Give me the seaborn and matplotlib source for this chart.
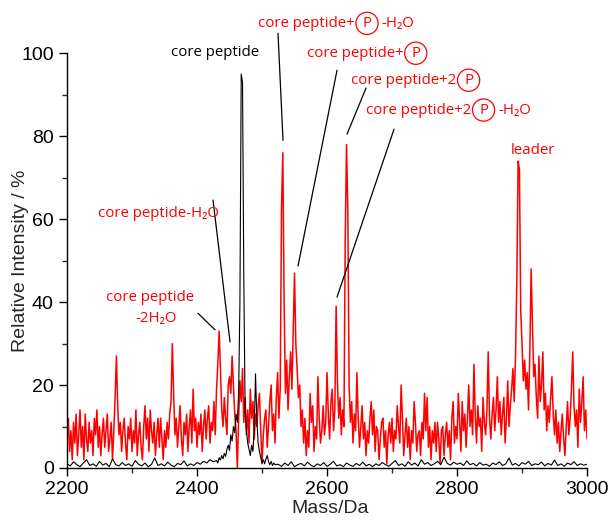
import numpy as np
import pandas as pd
import matplotlib
matplotlib.use("Agg")
import matplotlib.pyplot as plt
import seaborn as sns
from matplotlib.ticker import MultipleLocator

# ---------------- data ----------------
# red trace: sampled every 2 Da from 2200 to 3000 Da
red_mass_start, red_mass_stop, red_mass_step = 2200, 3000, 2
red_intensity = [
    7, 12, 4, 9, 2, 11, 6, 13, 3, 8, 14, 5, 10, 2, 13, 7, 4, 11, 6, 9, 3, 12, 8, 14, 5,        # 2200
    10, 3, 8, 12, 5, 9, 13, 4, 7, 11, 2, 9, 17, 27, 15, 8, 11, 4, 9, 12, 6, 2, 10, 7, 12,      # 2250
    4, 9, 6, 14, 3, 8, 11, 5, 2, 10, 15, 7, 12, 4, 14, 9, 6, 11, 3, 8, 12, 5, 12, 7, 2,        # 2300
    9, 5, 11, 7, 13, 16, 30, 18, 8, 12, 5, 10, 15, 7, 3, 11, 8, 13, 4, 10, 14, 6, 19, 9, 12,   # 2350
    5, 11, 8, 13, 4, 10, 14, 7, 12, 15, 6, 11, 9, 16, 8, 19, 25, 33, 24, 14, 10, 17, 12, 8, 20,  # 2400
    22, 18, 27, 20, 13, 9, 0, 12, 21, 16, 24, 11, 17, 8, 14, 6, 19, 12, 16, 7, 13, 10, 15, 18, 9,  # 2450
    1, 8, 12, 14, 5, 10, 16, 20, 9, 13, 6, 17, 23, 12, 19, 63, 76, 40, 18, 26, 14, 22, 28, 19, 33,  # 2500
    47, 30, 24, 17, 20, 10, 14, 6, 12, 3, 9, 5, 18, 11, 15, 4, 10, 7, 22, 12, 6, 9, 15, 8, 11,  # 2550
    23, 13, 7, 16, 19, 9, 14, 39, 21, 12, 17, 8, 14, 10, 55, 78, 62, 20, 11, 16, 6, 13, 9, 23, 12,  # 2600
    5, 10, 15, 7, 11, 3, 9, 6, 12, 16, 8, 14, 4, 10, 9, 2, 7, 11, 12, 5, 9, 1, 8, 11, 6,        # 2650
    12, 4, 9, 7, 15, 10, 6, 20, 12, 3, 8, 12, 5, 10, 2, 9, 6, 16, 11, 4, 8, 9, 3, 11, 7,       # 2700
    18, 9, 17, 5, 10, 2, 9, 6, 11, 4, 11, 7, 1, 9, 10, 3, 8, 11, 5, 9, 2, 12, 16, 6, 10,       # 2750
    7, 18, 11, 4, 16, 9, 13, 5, 12, 20, 10, 14, 8, 25, 13, 6, 15, 10, 12, 4, 17, 11, 8, 14, 28,  # 2800
    12, 7, 13, 17, 9, 14, 22, 11, 16, 8, 13, 17, 6, 12, 21, 10, 15, 19, 24, 16, 27, 45, 74, 72, 38,  # 2850
    30, 21, 26, 19, 23, 14, 28, 48, 35, 22, 25, 17, 12, 27, 16, 20, 28, 14, 18, 9, 15, 11, 17, 22, 13,  # 2900
    8, 14, 6, 11, 4, 9, 13, 7, 3, 10, 16, 8, 12, 19, 28, 15, 10, 14, 5, 19, 11, 16, 22, 9, 14, 7,  # 2950-3000
]

# black trace: coarse sampling on the baseline, fine sampling around the core peptide
black_low_intensity = [1.0, 0.5, 1.5, 0.8, 0.3, 1.2, 2.0, 0.6, 1.0, 0.4, 1.6, 0.7, 1.1, 0.3, 2.2, 0.8,
                       0.5, 1.3, 0.6, 1.0, 0.4, 1.8, 0.9, 0.5, 1.2, 0.3, 0.9, 2.4, 0.6, 1.0, 0.5, 1.4,
                       0.7, 0.3, 1.1, 0.8, 1.7, 0.5, 1.0, 0.6, 1.3, 0.9, 1.6, 1.2, 2.0, 1.5]          # 2200-2425 / 5 Da
black_peak_intensity = [1.8, 1.2, 2.5, 1.9, 3.0, 2.2, 3.5, 2.8, 4.5, 5.5, 4.2, 8.0, 6.5, 10.0, 8.5, 13.0,
                        11.0, 18.0, 40.0, 95.0, 93.0, 45.0, 14.0, 9.0, 6.0, 4.5, 3.0, 5.5, 4.0, 9.0, 22.7,
                        12.0, 6.0, 4.0, 2.5, 1.2, 2.0, 1.0, 2.2, 3.0, 1.5, 0.8, 1.6, 0.6, 1.2, 0.8]       # 2430-2520 / 2 Da
black_high_intensity = [0.9, 0.4, 1.2, 0.6, 1.5, 0.3, 0.8, 1.1, 0.5, 1.4, 0.7, 0.3, 1.0, 0.6, 1.3, 0.4,
                        0.9, 1.6, 0.5, 0.8, 0.3, 1.2, 0.7, 0.4, 1.1, 0.6, 1.4, 0.5, 0.9, 0.3, 1.0, 0.6,
                        1.3, 0.8, 0.4, 1.1, 1.8, 0.6, 1.0, 0.4, 1.5, 0.7, 1.2, 0.5, 2.0, 0.9, 1.3, 0.6,
                        1.0, 1.6, 0.8, 2.6, 1.1, 0.7, 1.4, 0.9, 1.2, 0.6, 1.7, 0.8, 1.1, 0.5, 1.3, 0.7,
                        0.9, 0.4, 1.2, 0.8, 1.5, 0.6, 1.0, 2.4, 0.7, 1.1, 0.5, 1.3, 0.9, 1.6, 0.6, 1.0,
                        0.8, 1.4, 0.5, 1.1, 0.7, 1.9, 0.6, 1.0, 0.4, 1.2, 0.8, 1.5, 0.6, 1.0, 0.7, 0.9]  # 2525-3000 / 5 Da

x_ticks_major = [2200, 2400, 2600, 2800, 3000]
y_ticks_major = [0, 20, 40, 60, 80, 100]

red_mass = np.arange(red_mass_start, red_mass_stop + 1, red_mass_step)
black_mass = np.concatenate([np.arange(2200, 2426, 5), np.arange(2430, 2521, 2), np.arange(2525, 3001, 5)])
black_intensity = black_low_intensity + black_peak_intensity + black_high_intensity
assert len(red_mass) == len(red_intensity)
assert len(black_mass) == len(black_intensity)

red_df = pd.DataFrame({"mass": red_mass, "intensity": red_intensity})
black_df = pd.DataFrame({"mass": black_mass, "intensity": black_intensity})

# ---------------- style ----------------
sns.set_style("ticks")
plt.rcParams["font.family"] = ["Liberation Sans", "DejaVu Sans"]
RED = "#ff0000"

fig = plt.figure(figsize=(6.12, 5.25), dpi=100)
ax = fig.add_axes([0.1095, 0.1086, 0.8497, 0.790])

sns.lineplot(data=red_df, x="mass", y="intensity", color=RED, lw=1.1,
             estimator=None, sort=False, ax=ax)
sns.lineplot(data=black_df, x="mass", y="intensity", color="black", lw=0.8,
             estimator=None, sort=False, ax=ax)

ax.set_xlim(2200, 3000)
ax.set_ylim(0, 100)
ax.set_xticks(x_ticks_major)
ax.set_yticks(y_ticks_major)
ax.xaxis.set_minor_locator(MultipleLocator(100))
ax.yaxis.set_minor_locator(MultipleLocator(10))
ax.tick_params(axis="both", which="major", direction="out", length=6, width=1.0,
               labelsize=14, colors="black")
ax.tick_params(axis="both", which="minor", direction="out", length=3.5, width=1.0)
for side in ("top", "right"):
    ax.spines[side].set_visible(False)
for side in ("left", "bottom"):
    ax.spines[side].set_linewidth(1.0)
    ax.spines[side].set_color("black")
ax.set_xlabel("Mass/Da", fontsize=14)
ax.set_ylabel("Relative Intensity / %", fontsize=14)
ax.xaxis.set_label_coords(0.506, -0.076)
ax.yaxis.set_label_coords(-0.073, 0.5)

# ---------------- annotations ----------------
ANN = dict(fontfamily=["Open Sans", "DejaVu Sans"], fontsize=10.8)


def chained_label(x, y, pieces, color=RED):
    """pieces: list of (text, circled)"""
    prev = ax.text(x, y, pieces[0][0], color=color, ha="left", va="center", **ANN)
    after_circle = False
    for txt, circled in pieces[1:]:
        if circled:
            dx = 5.6
        elif after_circle:
            dx = 7.4
        else:
            dx = 0
        kw = {}
        if circled:
            kw["bbox"] = dict(boxstyle="circle,pad=0.24", fc="none", ec=color, lw=0.9)
        prev = ax.annotate(txt, xy=(1, 0), xycoords=prev, xytext=(dx, 0),
                           textcoords="offset points", ha="left", va="bottom",
                           color=color, annotation_clip=False, **ANN, **kw)
        after_circle = circled


ax.text(2428, 100.2, "core peptide", color="black", ha="center", va="center", **ANN)
chained_label(2494, 107.2, [("core peptide+", False), ("P", True), ("-H\u2082O", False)])
chained_label(2569, 100.0, [("core peptide+", False), ("P", True)])
chained_label(2637, 93.5, [("core peptide+2", False), ("P", True)])
chained_label(2660, 86.3, [("core peptide+2", False), ("P", True), ("-H\u2082O", False)])
ax.text(2917, 76.6, "leader", color=RED, ha="center", va="center", **ANN)
ax.text(2341, 61.4, "core peptide-H\u2082O", color=RED, ha="center", va="center", **ANN)
ax.text(2328, 41.2, "core peptide", color=RED, ha="center", va="center", **ANN)
ax.text(2337, 36.1, "-2H\u2082O", color=RED, ha="center", va="center", **ANN)

pointer_lines = [
    ((2524.6, 104.8), (2532.3, 79.0)),
    ((2615.4, 95.9), (2555.4, 48.7)),
    ((2660.0, 91.6), (2630.8, 80.5)),
    ((2703.1, 81.7), (2615.4, 41.2)),
    ((2424.6, 64.6), (2450.8, 30.4)),
    ((2401.5, 37.3), (2427.7, 33.3)),
]
for (x0, y0), (x1, y1) in pointer_lines:
    ax.plot([x0, x1], [y0, y1], color="black", lw=0.9, clip_on=False)

fig.savefig("out.png", dpi=100, facecolor="white")
